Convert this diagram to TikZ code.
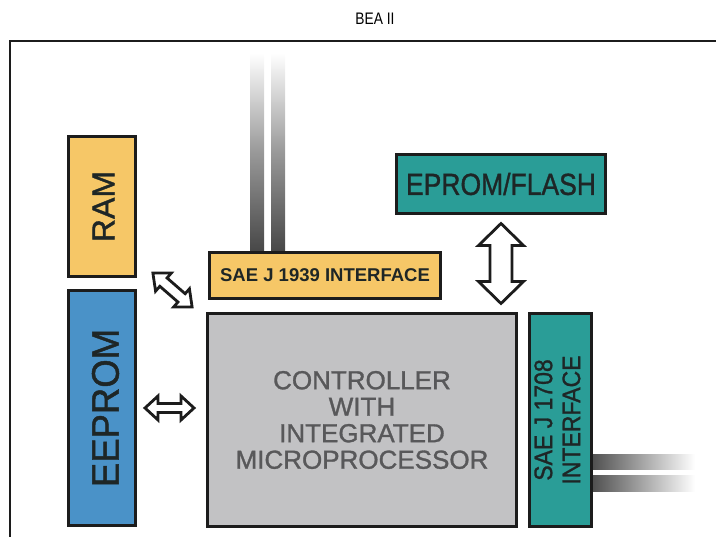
\documentclass[tikz,border=0pt]{standalone}
\usepackage{fontspec}
\setmainfont{Liberation Sans}
\newfontfamily\labelfont[FakeBold=1.2]{Liberation Sans}
\usetikzlibrary{calc}
\definecolor{ramyellow}{HTML}{F6C767}
\definecolor{eepblue}{HTML}{4A92C8}
\definecolor{tealc}{HTML}{2A9D97}
\definecolor{ctrlgray}{HTML}{C2C2C4}
\definecolor{edge}{HTML}{1C1C1C}
\definecolor{ink}{HTML}{1E2626}
\definecolor{ctrlink}{HTML}{58585A}
\tikzset{
  blk/.style={draw=edge, line width=3pt, inner sep=0pt, text=ink},
  arrowline/.style={draw=edge, line width=2.8pt, fill=white, line join=miter},
  pics/dblarrow/.style n args={4}{code={%
    \draw[arrowline] (-#1,0) -- (-#1+#4,#2) -- (-#1+#4,#3) -- (#1-#4,#3) -- (#1-#4,#2) -- (#1,0)
      -- (#1-#4,-#2) -- (#1-#4,-#3) -- (-#1+#4,-#3) -- (-#1+#4,-#2) -- cycle;}}
}
\begin{document}
\begin{tikzpicture}[x=1pt,y=-1pt]
\useasboundingbox (0,0) rectangle (716,537);
% title
\node[font=\fontsize{14.5}{16}\selectfont, text=black] (title) at (375,19) {\scalebox{0.95}[1.15]{BEA II}};
% frame
\draw[draw=edge, line width=2pt] (10,537) -- (10,41.5) -- (716,41.5);
% buses
\shade[top color=white, bottom color=black!72, middle color=black!40] (250,53) rectangle (264,251);
\shade[top color=white, bottom color=black!72, middle color=black!40] (271,53) rectangle (285,251);
\shade[left color=black!68, right color=white] (593,455) rectangle (695,470);
\shade[left color=black!68, right color=white] (593,476) rectangle (695,492);
% blocks
\node[blk, fill=ramyellow, minimum width=67pt, minimum height=140pt] (ram) at (102,206.5)
  {\hspace*{3pt}\rotatebox{90}{\labelfont\fontsize{32}{32}\selectfont RAM}};
\node[blk, fill=eepblue, minimum width=67pt, minimum height=235pt] (eeprom) at (102,408)
  {\hspace*{7pt}\rotatebox{90}{\labelfont\fontsize{36.5}{36.5}\selectfont\scalebox{1}[1.05]{EEPROM}}};
\node[blk, fill=ramyellow, minimum width=231pt, minimum height=46pt,
  font=\bfseries\fontsize{18.5}{20}\selectfont] (j1939) at (325,275.5) {SAE J 1939 INTERFACE};
\node[blk, fill=tealc, minimum width=209pt, minimum height=59pt,
  font=\labelfont\fontsize{26.5}{28}\selectfont] (eprom) at (501,184) {\scalebox{1}[1.15]{EPROM/FLASH}};
\node[blk, fill=ctrlgray, minimum width=309pt, minimum height=213pt, text=ctrlink,
  align=center, font=\labelfont\fontsize{26}{26.5}\selectfont] (ctrl) at (362,420)
  {CONTROLLER\\WITH\\INTEGRATED\\MICROPROCESSOR};
\node[blk, fill=tealc, minimum width=62pt, minimum height=213pt] (j1708) at (560.5,420)
  {\rotatebox{90}{\labelfont\fontsize{23}{28}\selectfont\begin{tabular}{@{}c@{}}\scalebox{1}[1.1]{SAE J 1708}\\\scalebox{1}[1.1]{INTERFACE}\end{tabular}}};
% hollow double arrows
\pic[rotate=90] at ($(eprom.south)!0.5!(eprom.south |- ctrl.north)$) {dblarrow={40}{22.5}{11}{22}};
\pic at ($(eeprom.east)!0.5!(ctrl.west)+(-2,-6)$) {dblarrow={24.5}{12}{4.5}{13}};
\pic[rotate=-41] at (172.5,290) {dblarrow={26}{12}{5.5}{14}};
\end{tikzpicture}
\end{document}
